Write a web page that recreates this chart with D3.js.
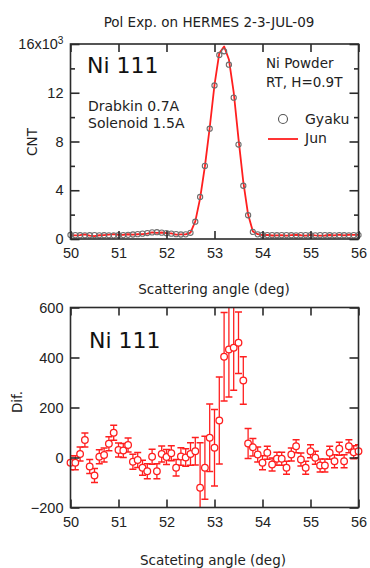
<!DOCTYPE html>
<html>
<head>
<meta charset="utf-8">
<script src="https://cdn.jsdelivr.net/npm/d3@7/dist/d3.min.js"></script>
<style>
  html, body { margin: 0; padding: 0; background: #fff; }
  svg { display: block; font-family: "DejaVu Sans", sans-serif; }
</style>
</head>
<body>
<svg id="chart" width="370" height="568"></svg>
<script>
// Scan angles, 50.0 .. 56.0 deg in 0.1 deg steps
const angles = [
  50.0, 50.1, 50.2, 50.3, 50.4, 50.5, 50.6, 50.7, 50.8, 50.9,
  51.0, 51.1, 51.2, 51.3, 51.4, 51.5, 51.6, 51.7, 51.8, 51.9,
  52.0, 52.1, 52.2, 52.3, 52.4, 52.5, 52.6, 52.7, 52.8, 52.9,
  53.0, 53.1, 53.2, 53.3, 53.4, 53.5, 53.6, 53.7, 53.8, 53.9,
  54.0, 54.1, 54.2, 54.3, 54.4, 54.5, 54.6, 54.7, 54.8, 54.9,
  55.0, 55.1, 55.2, 55.3, 55.4, 55.5, 55.6, 55.7, 55.8, 55.9,
  56.0
];

// Counts, field reversed ("Gyaku")
const gyaku = [
  330, 315, 310, 305, 310, 315, 305, 310, 305, 300,
  310, 320, 340, 370, 400, 440, 490, 540, 560, 520,
  480, 440, 400, 370, 380, 510, 1420, 3450, 6000, 9050,
  12600, 15100, 15400, 14300, 11600, 7750, 4370, 1950, 580, 380,
  330, 320, 315, 310, 315, 320, 310, 305, 315, 320,
  310, 305, 315, 320, 310, 305, 315, 310, 305, 315,
  320
];

// Counts, field forward ("Jun")
const jun = [
  309, 294, 324, 375, 274, 243, 308, 320, 360, 399,
  340, 348, 390, 353, 390, 399, 435, 543, 505, 534,
  482, 457, 359, 374, 380, 524, 1445, 3329, 5959, 9129,
  12639, 15248, 15803, 14732, 12039, 8209, 4678, 2006, 621, 392,
  309, 339, 287, 305, 310, 279, 322, 350, 307, 279,
  335, 304, 283, 288, 329, 290, 350, 295, 350, 336,
  345
];

// Difference Jun - Gyaku and its uncertainty
const dif = [
  -21, -21, 14, 70, -36, -72, 3, 10, 55, 99,
  30, 28, 50, -17, -10, -41, -55, 3, -55, 14,
  2, 17, -41, 4, 0, 14, 25, -121, -41, 79,
  39, 148, 403, 432, 439, 459, 308, 56, 41, 12,
  -21, 19, -28, -5, -5, -41, 12, 45, -8, -41,
  25, -1, -32, -32, 19, -15, 35, -15, 45, 21,
  25
];
const difErr = [
  28, 28, 28, 28, 28, 28, 28, 28, 28, 30,
  28, 28, 28, 30, 30, 30, 30, 30, 30, 32,
  30, 30, 33, 35, 35, 45, 55, 180, 126, 135,
  153, 174, 177, 190, 170, 123, 95, 60, 35, 30,
  28, 26, 26, 26, 26, 26, 26, 26, 26, 26,
  26, 26, 26, 26, 26, 26, 26, 26, 26, 26,
  26
];

// Axis ticks
const xTicks = [50, 51, 52, 53, 54, 55, 56];
const cntTicks = [0, 4000, 8000, 12000, 16000];
const cntMinor = [2000, 6000, 10000, 14000];
const difTicks = [-200, 0, 200, 400, 600];

const RED = "#ff1f1f";
const FRAME = "#2b2b2b";
const svg = d3.select("#chart");

const left = 70.5, right = 358.5;
const x = d3.scaleLinear().domain([50, 56]).range([left, right]);

function frameAxes(g, y, top, bottom, yTicks, yMinor, yFormat) {
  g.append("g").attr("transform", `translate(0,${bottom})`)
    .call(d3.axisBottom(x).tickValues(xTicks).tickSize(-8).tickSizeOuter(0).tickPadding(9)
      .tickFormat(d3.format("d")))
    .call(a => a.select(".domain").remove())
    .call(a => a.selectAll("text").attr("font-size", 14.5).attr("fill", "#222"));
  g.append("g").attr("transform", `translate(0,${top})`)
    .call(d3.axisTop(x).tickValues(xTicks).tickSize(-8).tickSizeOuter(0).tickFormat(""))
    .call(a => a.select(".domain").remove())
    .call(a => a.selectAll("text").remove());
  g.append("g").attr("class", "y-left").attr("transform", `translate(${left},0)`)
    .call(d3.axisLeft(y).tickValues(yTicks).tickSize(-9).tickSizeOuter(0).tickPadding(7).tickFormat(yFormat))
    .call(a => a.select(".domain").remove())
    .call(a => a.selectAll("text").attr("font-size", 14.5).attr("fill", "#222"));
  g.append("g").attr("transform", `translate(${right},0)`)
    .call(d3.axisRight(y).tickValues(yTicks).tickSize(-9).tickSizeOuter(0).tickFormat(""))
    .call(a => a.select(".domain").remove())
    .call(a => a.selectAll("text").remove());
  if (yMinor) {
    g.append("g").attr("transform", `translate(${left},0)`)
      .call(d3.axisLeft(y).tickValues(yMinor).tickSize(-4.5).tickSizeOuter(0).tickFormat(""))
      .call(a => a.select(".domain").remove())
      .call(a => a.selectAll("text").remove());
    g.append("g").attr("transform", `translate(${right},0)`)
      .call(d3.axisRight(y).tickValues(yMinor).tickSize(-4.5).tickSizeOuter(0).tickFormat(""))
      .call(a => a.select(".domain").remove())
      .call(a => a.selectAll("text").remove());
  }
  g.selectAll(".tick line").attr("stroke", FRAME).attr("stroke-width", 1.6);
  g.append("rect")
    .attr("x", left).attr("y", top).attr("width", right - left).attr("height", bottom - top)
    .attr("fill", "none").attr("stroke", FRAME).attr("stroke-width", 1.6);
}

// ---------- Upper panel: counts ----------
const top1 = 44, bot1 = 239;
const y1 = d3.scaleLinear().domain([0, 16000]).range([bot1, top1]);
const g1 = svg.append("g");

svg.append("text").attr("x", 209).attr("y", 27).attr("text-anchor", "middle")
  .attr("font-size", 13.5).attr("fill", "#222").text("Pol Exp. on HERMES 2-3-JUL-09");

g1.append("path")
  .datum(angles.map((a, i) => [a, jun[i]]))
  .attr("fill", "none").attr("stroke", RED).attr("stroke-width", 1.8)
  .attr("stroke-linejoin", "round")
  .attr("d", d3.line().x(d => x(d[0])).y(d => y1(d[1])));

g1.append("g").selectAll("circle")
  .data(angles.map((a, i) => [a, gyaku[i]]))
  .join("circle")
  .attr("cx", d => x(d[0])).attr("cy", d => y1(d[1])).attr("r", 2.6)
  .attr("fill", "none").attr("stroke", "#6e6e6e").attr("stroke-width", 1.1);

frameAxes(g1, y1, top1, bot1, cntTicks, cntMinor, d => d / 1000);

// exponent label on the top count tick
g1.select(".y-left").selectAll(".tick text").filter(d => d === 16000)
  .text("16x10")
  .append("tspan").attr("dy", "-0.55em").attr("font-size", "0.7em").text("3");

g1.append("text").attr("x", 87).attr("y", 73).attr("font-size", 22).attr("fill", "#111").text("Ni 111");
g1.append("text").attr("x", 88).attr("y", 111).attr("font-size", 14).attr("fill", "#222").text("Drabkin 0.7A");
g1.append("text").attr("x", 88).attr("y", 128).attr("font-size", 14).attr("fill", "#222").text("Solenoid 1.5A");
g1.append("text").attr("x", 266).attr("y", 68).attr("font-size", 13.5).attr("fill", "#222").text("Ni Powder");
g1.append("text").attr("x", 266).attr("y", 87).attr("font-size", 13.5).attr("fill", "#222").text("RT, H=0.9T");

// legend
g1.append("circle").attr("cx", 283).attr("cy", 119).attr("r", 4.5)
  .attr("fill", "none").attr("stroke", "#555").attr("stroke-width", 1.1);
g1.append("text").attr("x", 305).attr("y", 124).attr("font-size", 14).attr("fill", "#222").text("Gyaku");
g1.append("line").attr("x1", 268).attr("x2", 298).attr("y1", 139).attr("y2", 139)
  .attr("stroke", RED).attr("stroke-width", 1.8);
g1.append("text").attr("x", 305).attr("y", 143).attr("font-size", 14).attr("fill", "#222").text("Jun");

svg.append("text").attr("transform", "translate(37,142) rotate(-90)").attr("text-anchor", "middle")
  .attr("font-size", 13.5).attr("fill", "#222").text("CNT");
svg.append("text").attr("x", 214).attr("y", 294).attr("text-anchor", "middle")
  .attr("font-size", 13.5).attr("fill", "#222").text("Scattering angle (deg)");

// ---------- Lower panel: difference ----------
const top2 = 307.5, bot2 = 507.5;
const y2 = d3.scaleLinear().domain([-200, 600]).range([bot2, top2]);
const g2 = svg.append("g");

svg.append("defs").append("clipPath").attr("id", "clip2")
  .append("rect").attr("x", left).attr("y", top2).attr("width", right - left).attr("height", bot2 - top2);

const pts = angles.map((a, i) => ({ a, v: dif[i], e: difErr[i] }));
const bars = g2.append("g").attr("clip-path", "url(#clip2)")
  .attr("stroke", RED).attr("stroke-width", 1.3).attr("fill", "none");
bars.selectAll("line.v").data(pts).join("line").attr("class", "v")
  .attr("x1", d => x(d.a)).attr("x2", d => x(d.a))
  .attr("y1", d => y2(d.v - d.e)).attr("y2", d => y2(d.v + d.e));
bars.selectAll("line.hi").data(pts).join("line").attr("class", "hi")
  .attr("x1", d => x(d.a) - 3.5).attr("x2", d => x(d.a) + 3.5)
  .attr("y1", d => y2(d.v + d.e)).attr("y2", d => y2(d.v + d.e));
bars.selectAll("line.lo").data(pts).join("line").attr("class", "lo")
  .attr("x1", d => x(d.a) - 3.5).attr("x2", d => x(d.a) + 3.5)
  .attr("y1", d => y2(d.v - d.e)).attr("y2", d => y2(d.v - d.e));

g2.append("g").selectAll("circle").data(pts).join("circle")
  .attr("cx", d => x(d.a)).attr("cy", d => y2(d.v)).attr("r", 3.3)
  .attr("fill", "#fff").attr("stroke", RED).attr("stroke-width", 1.3);

frameAxes(g2, y2, top2, bot2, difTicks, null, d3.format("d"));

g2.append("text").attr("x", 89).attr("y", 348).attr("font-size", 22).attr("fill", "#111").text("Ni 111");

svg.append("text").attr("transform", "translate(22,402) rotate(-90)").attr("text-anchor", "middle")
  .attr("font-size", 13.5).attr("fill", "#222").text("Dif.");
svg.append("text").attr("x", 213).attr("y", 565).attr("text-anchor", "middle")
  .attr("font-size", 13.5).attr("fill", "#222").text("Scateting angle (deg)");
</script>
</body>
</html>
